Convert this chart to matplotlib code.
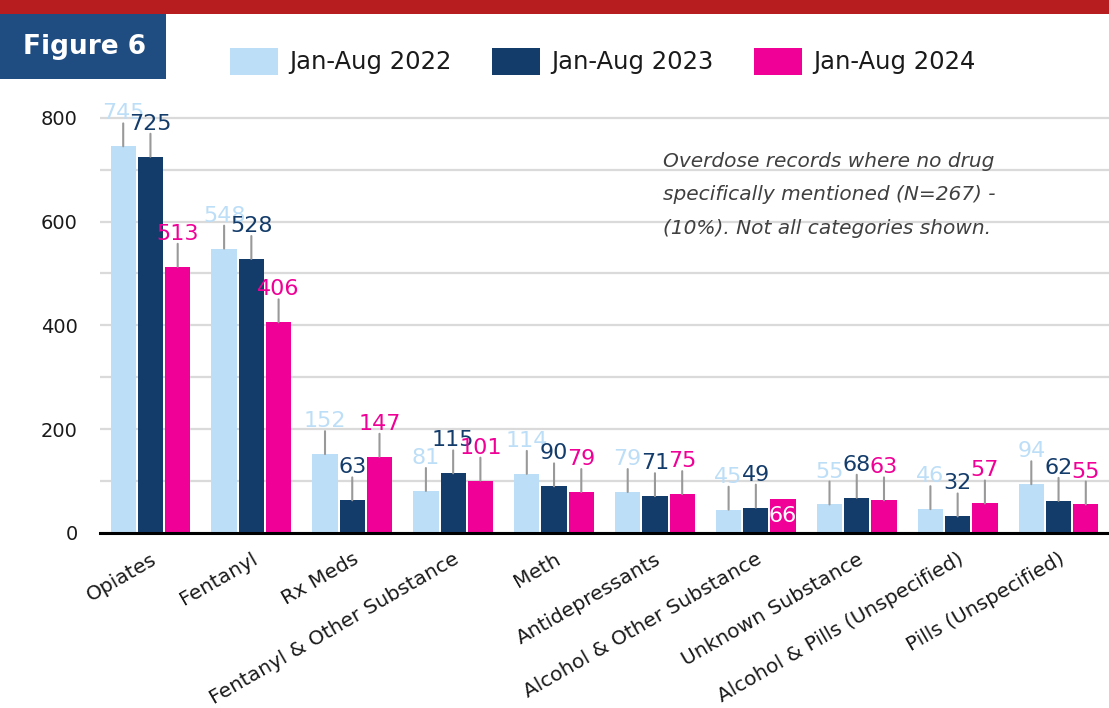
import numpy as np
import matplotlib
matplotlib.use('Agg')
import matplotlib.pyplot as plt
from matplotlib.patches import Rectangle
from matplotlib.ticker import MultipleLocator

categories = ['Opiates', 'Fentanyl', 'Rx Meds', 'Fentanyl & Other Substance', 'Meth',
              'Antidepressants', 'Alcohol & Other Substance', 'Unknown Substance',
              'Alcohol & Pills (Unspecified)', 'Pills (Unspecified)']
series_names = ['Jan-Aug 2022', 'Jan-Aug 2023', 'Jan-Aug 2024']
jan_aug_2022 = [745, 548, 152, 81, 114, 79, 45, 55, 46, 94]
jan_aug_2023 = [725, 528, 63, 115, 90, 71, 49, 68, 32, 62]
jan_aug_2024 = [513, 406, 147, 101, 79, 75, 66, 63, 57, 55]
y_tick_values = [0, 200, 400, 600, 800]
note_lines = ['Overdose records where no drug',
              'specifically mentioned (N=267) -',
              '(10%). Not all categories shown.']
# label drawn inside the bar (category index, series index)
inside_labels = [(6, 2)]


def main():
    plt.rcParams['font.family'] = 'DejaVu Sans'
    W, H = 1109, 708
    fig = plt.figure(figsize=(W / 100, H / 100), dpi=100)

    colors = ['#BDDEF7', '#143C6B', '#F00096']
    series = [jan_aug_2022, jan_aug_2023, jan_aug_2024]

    # red strip across the top
    fig.add_artist(Rectangle((0, 1 - 14 / H), 1, 14 / H, transform=fig.transFigure,
                             facecolor='#B71C1F', lw=0))
    # figure tag
    fig.add_artist(Rectangle((0, 1 - 79 / H), 166 / W, 65 / H, transform=fig.transFigure,
                             facecolor='#1F4C81', lw=0))
    fig.text(23 / W, 1 - 47 / H, 'Figure 6', color='white', fontsize=19,
             fontweight='bold', va='center', ha='left')

    # legend
    for i, (name, clr) in enumerate(zip(series_names, colors)):
        x0 = 230 + i * 262
        fig.add_artist(Rectangle((x0 / W, 1 - 75 / H), 48 / W, 27 / H,
                                 transform=fig.transFigure, facecolor=clr, lw=0))
        fig.text((x0 + 59) / W, 1 - 61.5 / H, name, fontsize=17.5, va='center',
                 ha='left', color='#1a1a1a')

    ax = fig.add_axes([100 / W, 175 / H, 1009 / W, 436 / H])
    x = np.arange(len(categories))
    offsets = [-0.27, 0.0, 0.27]

    for s, (vals, clr) in enumerate(zip(series, colors)):
        ax.bar(x + offsets[s], vals, width=0.25, color=clr, zorder=3)
        for c, v in enumerate(vals):
            if (c, s) in inside_labels:
                ax.text(x[c] + offsets[s], v / 2, str(v), ha='center', va='center',
                        color='white', fontsize=16, zorder=5)
                continue
            ax.annotate(str(v), xy=(x[c] + offsets[s], v), xytext=(0, 16.5),
                        textcoords='offset points', ha='center', va='bottom',
                        color=clr, fontsize=16, zorder=5,
                        arrowprops=dict(arrowstyle='-', color='#999999', lw=1.5,
                                        shrinkA=0, shrinkB=0, patchA=None,
                                        relpos=(0.5, 0)))

    ax.set_xlim(-0.5, 9.5)
    ax.set_ylim(0, 840)
    ax.set_yticks(y_tick_values)
    ax.yaxis.set_minor_locator(MultipleLocator(100))
    ax.grid(axis='y', which='both', color='#DADADA', lw=1.6)
    ax.set_axisbelow(True)

    for side in ['left', 'right', 'top']:
        ax.spines[side].set_visible(False)
    ax.spines['bottom'].set_linewidth(2.2)
    ax.spines['bottom'].set_color('black')
    ax.spines['bottom'].set_zorder(4)

    ax.tick_params(axis='y', which='both', length=0, labelsize=14, pad=16, colors='#1a1a1a')
    ax.set_xticks(x)
    ax.set_xticklabels(categories, rotation=30, ha='right', rotation_mode='anchor',
                       fontsize=14.5, color='#1a1a1a')
    ax.tick_params(axis='x', length=0, pad=12)

    fig.text(663 / W, 1 - 152 / H, '\n'.join(note_lines), va='top', ha='left',
             style='italic', fontsize=14.5, color='#404040', linespacing=1.95)

    fig.savefig('out.png', dpi=100)


if __name__ == '__main__':
    main()
